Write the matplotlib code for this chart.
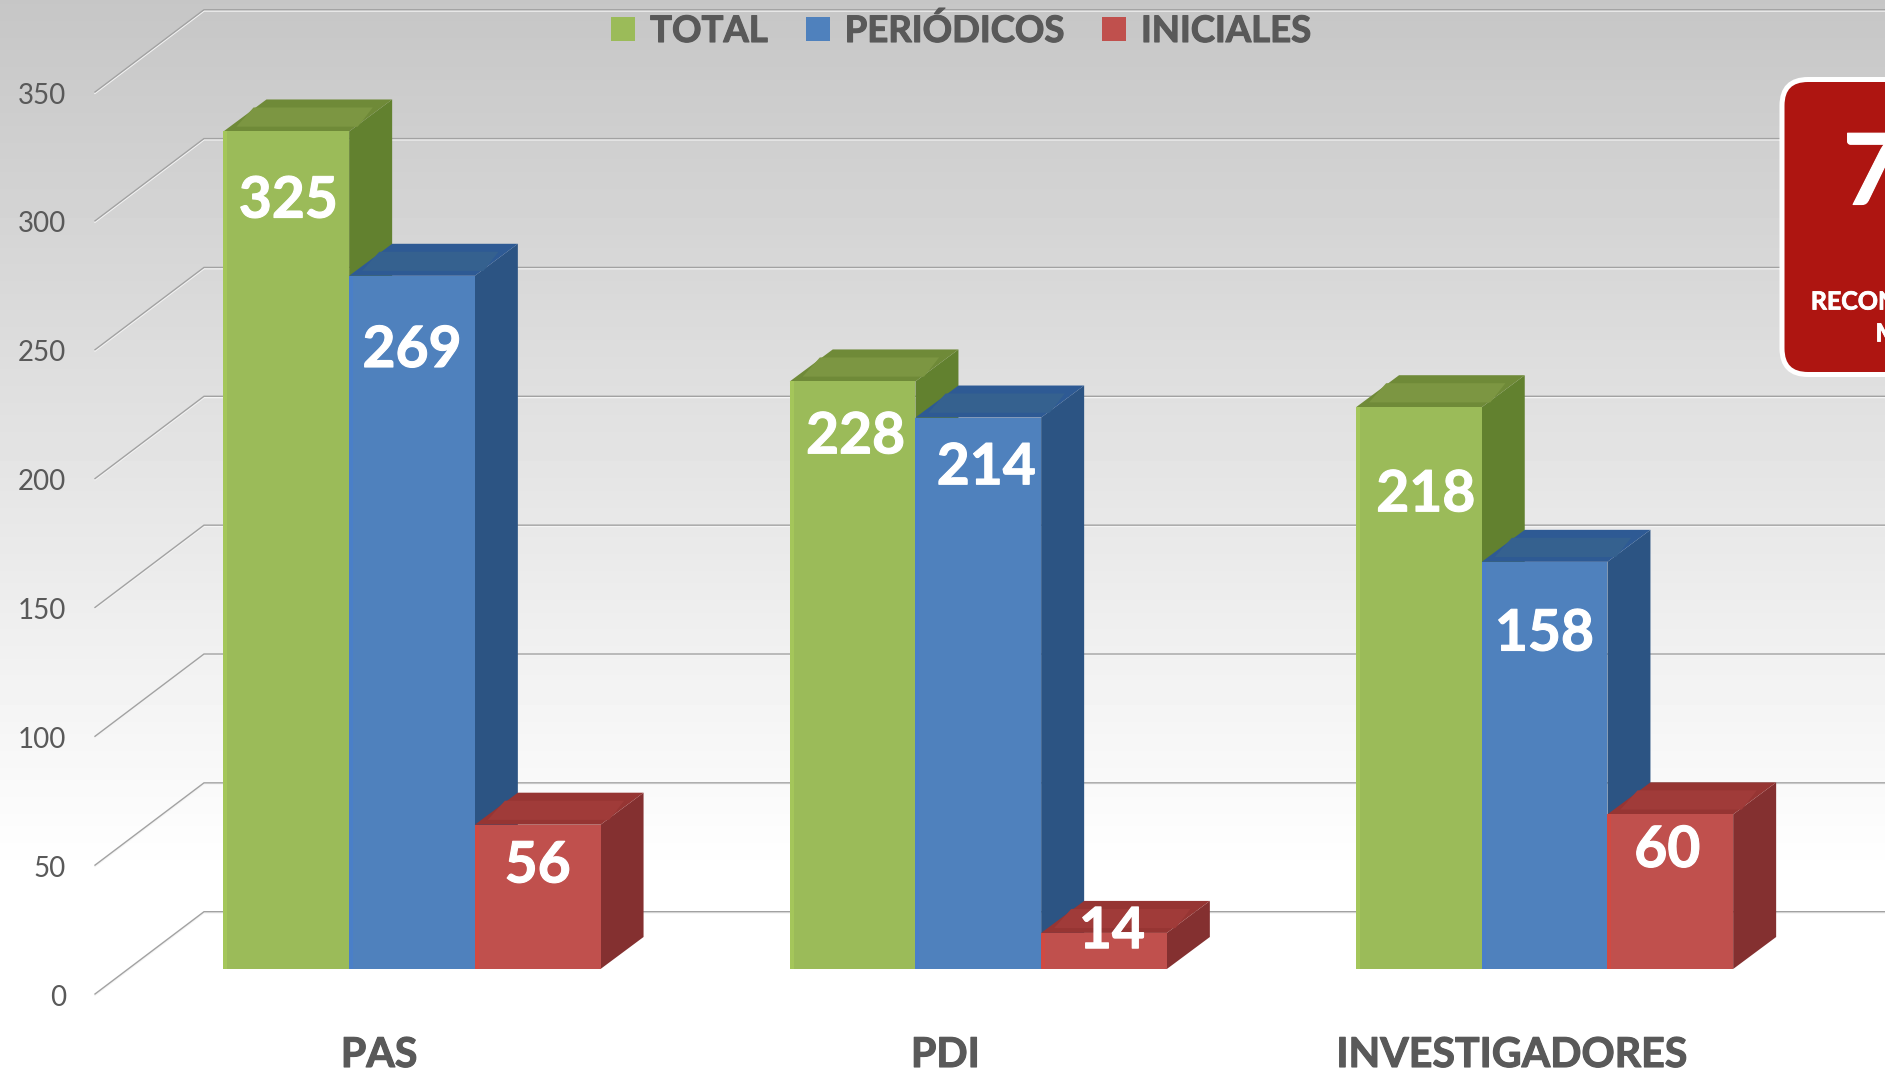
import numpy as np
import matplotlib
matplotlib.use("Agg")
import matplotlib.pyplot as plt
import matplotlib.patheffects as pe
from matplotlib.patches import Rectangle, Polygon, FancyBboxPatch, Patch
from matplotlib.transforms import IdentityTransform

# ---- data ----
categories = ["PAS", "PDI", "INVESTIGADORES"]
series_names = ["TOTAL", "PERIÓDICOS", "INICIALES"]
total = [325, 228, 218]
periodicos = [269, 214, 158]
iniciales = [56, 14, 60]
y_ticks = [0, 50, 100, 150, 200, 250, 300, 350]

# ---- style / layout ----
W, H = 1885, 1074
DPI = 100
plt.rcParams["font.family"] = ["Lato", "DejaVu Sans"]
front_col = ["#9BBB59", "#4F81BD", "#C0504D"]
edge_col = ["#A4C65A", "#4A7FC8", "#D04A42"]
top_col = ["#6F8A38", "#2E5A94", "#963533"]
top_inner = ["#7C9642", "#35618F", "#A03B39"]
side_col = ["#62812F", "#2C5483", "#843030"]
TXT = "#595959"

def heavy(color, w=0.7):
    return [pe.withStroke(linewidth=w, foreground=color)]

PX_X0, PX_PER_CAT = 412.0, 566.3     # px of category 0, px per category
PX_Y0, PX_PER_VAL = 969.0, 2.577     # px of value 0 on bars' front plane, px per unit
BAR_W = 125.7 / PX_PER_CAT
DX = 43.0 / PX_PER_CAT               # bar depth
DY = 32.0 / PX_PER_VAL
WALL_FRONT = ((95 - PX_X0) / PX_PER_CAT, (PX_Y0 - 994) / PX_PER_VAL)
WALL_BACK = ((204 - PX_X0) / PX_PER_CAT, (PX_Y0 - 911.7) / PX_PER_VAL)

fig = plt.figure(figsize=(W / DPI, H / DPI), dpi=DPI)
ax = fig.add_axes([0, 0, 1, 1])
ax.set_xlim(-PX_X0 / PX_PER_CAT, (W - PX_X0) / PX_PER_CAT)
ax.set_ylim((PX_Y0 - H) / PX_PER_VAL, PX_Y0 / PX_PER_VAL)
for s in ax.spines.values():
    s.set_visible(False)

# background gradient
g = np.clip(np.linspace(198, 268, 256), 0, 255).reshape(-1, 1) / 255
ax.imshow(g, cmap="gray", vmin=0, vmax=1, aspect="auto", zorder=0,
          extent=[*ax.get_xlim(), ax.get_ylim()[0], ax.get_ylim()[1]], origin="upper")
ax.set_xlim(-PX_X0 / PX_PER_CAT, (W - PX_X0) / PX_PER_CAT)
ax.set_ylim((PX_Y0 - H) / PX_PER_VAL, PX_Y0 / PX_PER_VAL)

# walls: gridlines (dark hairline with a pale line under it)
xmax = ax.get_xlim()[1]
under = 1.2 / PX_PER_VAL
for v in y_ticks:
    xs = [WALL_FRONT[0], WALL_BACK[0], xmax]
    ys = [v * 1.0 + WALL_FRONT[1], v * 1.0 + WALL_BACK[1], v * 1.0 + WALL_BACK[1]]
    ax.plot(xs, [y - under for y in ys], color="#F4F4F4", lw=1.1, zorder=1, solid_joinstyle="miter")
    ax.plot(xs, ys, color="#A2A2A2", lw=1.0, zorder=1.1, solid_joinstyle="miter")

# bars
all_series = [total, periodicos, iniciales]
z = 2.0
for i in range(len(categories)):
    for j, vals in enumerate(all_series):
        v = vals[i]
        x0 = i + (j - 1.5) * BAR_W
        x1 = x0 + BAR_W
        ax.add_patch(Polygon([(x1, 0), (x1 + DX, DY), (x1 + DX, v + DY), (x1, v)],
                             fc=side_col[j], ec="none", zorder=z))
        ax.add_patch(Polygon([(x0, v), (x0 + DX, v + DY), (x1 + DX, v + DY), (x1, v)],
                             fc=top_col[j], ec="none", zorder=z + .01))
        ax.add_patch(Polygon([(x0 + DX * .3, v + DY * .15), (x0 + DX * .7, v + DY * .75),
                              (x1 + DX * .55, v + DY * .75), (x1 + DX * .2, v + DY * .15)],
                             fc=top_inner[j], ec="none", zorder=z + .02))
        ax.bar(x0 + BAR_W / 2, v, BAR_W, color=front_col[j], zorder=z + .03)
        ax.add_patch(Rectangle((x0, 0), 4 / PX_PER_CAT, v, fc=edge_col[j], ec="none", zorder=z + .04))
        z += 0.1

# value labels
label_dx_px = [[2, 0, 0], [3, 8, 8], [7, 0, -3]]
label_y = [[298, 240, 40], [206.5, 194.5, 14.5], [184, 130, 46]]
for i in range(3):
    for j, vals in enumerate(all_series):
        x = i + (j - 1) * BAR_W + label_dx_px[i][j] / PX_PER_CAT
        ax.text(x, label_y[i][j], str(vals[i]), color="white", fontsize=41, fontweight="bold",
                ha="center", va="center", zorder=9, path_effects=heavy("white", 0.8))

# axis tick labels
ax.set_yticks([v + WALL_FRONT[1] - 0.4 for v in y_ticks], labels=[str(v) for v in y_ticks])
ax.tick_params(axis="y", length=0, direction="in", pad=-66 * 72 / DPI, labelsize=20, labelcolor=TXT)
for t in ax.get_yticklabels():
    t.set_ha("right")
cat_shift = -33 / PX_PER_CAT
ax.set_xticks([i + cat_shift for i in range(3)], labels=categories)
ax.tick_params(axis="x", length=0, direction="in", pad=-(H - 1037) * 72 / DPI, labelsize=29.6, labelcolor=TXT)
for t in ax.get_xticklabels():
    t.set_fontweight("bold")
    t.set_path_effects(heavy(TXT, 0.8))

# legend
handles = [Patch(fc=c, ec="none", label=n) for c, n in zip(front_col, series_names)]
leg = ax.legend(handles=handles, ncol=3, frameon=False, loc="center", bbox_to_anchor=(961 / W, 1 - 31 / H),
                fontsize=26.3, handlelength=0.66, handleheight=0.66, handletextpad=0.4, columnspacing=1.05,
                borderpad=0, labelspacing=0)
for t in leg.get_texts():
    t.set_color(TXT)
    t.set_fontweight("bold")
    t.set_path_effects(heavy(TXT, 0.8))
leg.set_zorder(10)

# callout box, partly outside the figure
fig.add_artist(FancyBboxPatch((1782, H - 374.5), 300, 295, boxstyle="round,pad=0,rounding_size=26",
                              transform=IdentityTransform(), fc="#AE1511", ec="white", lw=3.6, zorder=20))
fig.text(1843 / W, 1 - 176 / H, "771", color="white", fontsize=71, fontweight="bold", va="center", ha="left", zorder=21,
         path_effects=heavy("white", 0.8))
fig.text(1933 / W, 1 - 302 / H, "RECONOCIMIENTOS", color="white", fontsize=18, fontweight="bold", va="center", ha="center", zorder=21,
         path_effects=heavy("white", 0.6))
fig.text(1933 / W, 1 - 334 / H, "MÉDICOS", color="white", fontsize=18, fontweight="bold", va="center", ha="center", zorder=21,
         path_effects=heavy("white", 0.6))

fig.savefig("out.png", dpi=DPI)
